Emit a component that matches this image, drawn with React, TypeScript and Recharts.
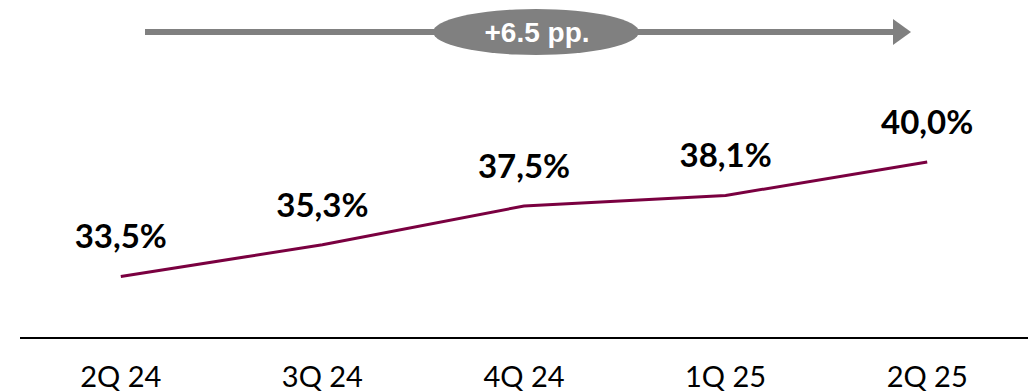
import React from "react";
import { LineChart, Line, XAxis, YAxis, LabelList } from "recharts";

const categories = ["2Q 24", "3Q 24", "4Q 24", "1Q 25", "2Q 25"];
const values = [33.5, 35.3, 37.5, 38.1, 40.0];

const data = categories.map((c, i) => ({ name: c, value: values[i] }));
const change = (values[values.length - 1] - values[0]).toFixed(1);

const W = 1028;
const H = 392;
const LEFT = 20;
const HALF_BAND = (W - LEFT) / categories.length / 2;

const renderLabel = (props: any) => {
  const { x, y, value } = props;
  return (
    <text
      x={x}
      y={y - 28}
      textAnchor="middle"
      fontFamily="Lato, sans-serif"
      fontWeight={700}
      fontSize={33}
      fill="#000"
    >
      {Number(value).toFixed(1).replace(".", ",") + "%"}
    </text>
  );
};

export default function App() {
  return (
    <div style={{ position: "absolute", left: 0, top: 0, width: W, height: H, background: "#fff" }}>
      <LineChart
        width={W}
        height={H}
        data={data}
        margin={{ top: 74, right: 0, bottom: 0, left: LEFT }}
      >
        <XAxis
          dataKey="name"
          height={54}
          padding={{ left: HALF_BAND, right: HALF_BAND }}
          axisLine={{ stroke: "#000", strokeWidth: 2 }}
          tickLine={false}
          tick={{ fill: "#000", fontSize: 29, fontFamily: "Lato, sans-serif" }}
          tickMargin={22}
          interval={0}
        />
        <YAxis hide domain={[30, 45]} />
        <Line
          type="linear"
          dataKey="value"
          stroke="#7A0040"
          strokeWidth={3}
          dot={false}
          isAnimationActive={false}
        >
          <LabelList dataKey="value" content={renderLabel} />
        </Line>
      </LineChart>
      <svg
        width={W}
        height={70}
        style={{ position: "absolute", left: 0, top: 0, pointerEvents: "none" }}
      >
        <line x1={145} y1={32} x2={895} y2={32} stroke="#808080" strokeWidth={6} />
        <polygon points="893,19 911,32 893,45" fill="#808080" />
        <ellipse cx={536} cy={32} rx={103} ry={23} fill="#808080" />
        <text
          x={537}
          y={42}
          textAnchor="middle"
          fill="#fff"
          fontFamily="'Liberation Sans', Arial, sans-serif"
          fontWeight={700}
          fontSize={28}
        >
          {"+" + change + " pp."}
        </text>
      </svg>
    </div>
  );
}
